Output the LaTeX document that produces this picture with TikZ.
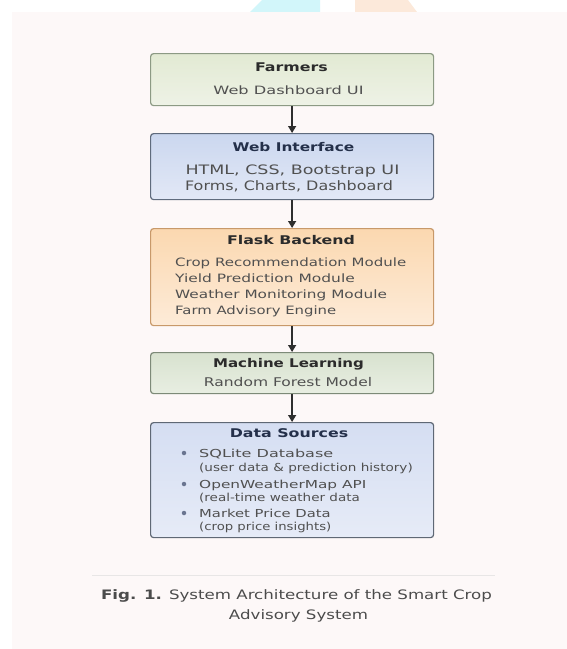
\documentclass[tikz,border=0pt]{standalone}
\usepackage{fontspec}
\setmainfont{DejaVu Sans}[FakeStretch=1.28]
\usetikzlibrary{arrows.meta}
\definecolor{panelbg}{HTML}{FDF8F8}
\definecolor{bodygray}{HTML}{505050}
\definecolor{arrowc}{HTML}{2E2E2E}
\definecolor{farmtop}{HTML}{E2EAD3}
\definecolor{farmbot}{HTML}{EEF2E6}
\definecolor{farmbd}{HTML}{8C9A84}
\definecolor{webtop}{HTML}{CBD7EF}
\definecolor{webbot}{HTML}{E2E8F6}
\definecolor{webbd}{HTML}{5F6B7D}
\definecolor{flasktop}{HTML}{FBD8B0}
\definecolor{flaskbot}{HTML}{FDEBD8}
\definecolor{flaskbd}{HTML}{C8996A}
\definecolor{mltop}{HTML}{D8E2CF}
\definecolor{mlbot}{HTML}{E8EEE2}
\definecolor{mlbd}{HTML}{7D8A78}
\definecolor{dstop}{HTML}{D5DEF2}
\definecolor{dsbot}{HTML}{E6EBF7}
\definecolor{dsbd}{HTML}{5F6875}
\definecolor{navy}{HTML}{24304A}
\definecolor{darkt}{HTML}{2B2B2B}
\definecolor{bulletc}{HTML}{6A7590}
\definecolor{sepc}{HTML}{E8E6E6}
\definecolor{wmcyan}{HTML}{D2F6FA}
\definecolor{wmorange}{HTML}{FCE9DA}
\newcommand{\hsc}[2]{\scalebox{#1}[1]{#2}}
\begin{document}
\begin{tikzpicture}[x=1pt,y=-1pt,
  box/.style={rounded corners=3pt, line width=1.2pt, minimum width=283pt, inner sep=0pt, anchor=north west},
  ttl/.style={font=\fontsize{12}{14}\selectfont\bfseries, inner sep=0pt, anchor=base},
  body/.style={font=\fontsize{11.5}{16}\selectfont, text=bodygray, inner sep=0pt, anchor=base},
  webbody/.style={font=\fontsize{13}{16}\selectfont, text=bodygray, inner sep=0pt, anchor=base},
  mlbody/.style={font=\fontsize{12}{16}\selectfont, text=bodygray, inner sep=0pt, anchor=base},
  lbody/.style={body, anchor=base west},
  dsbody/.style={font=\fontsize{11}{14}\selectfont, text=bodygray, inner sep=0pt, anchor=base west},
  capt/.style={font=\fontsize{13}{16}\selectfont, text=darkt!85, inner sep=0pt, anchor=base},
  bul/.style={circle, fill=bulletc, inner sep=0pt, minimum size=4.5pt},
  arr/.style={draw=arrowc, line width=1.4pt, -{Triangle[length=7pt,width=8pt]}}]
\useasboundingbox (0,0) rectangle (567,649);
\fill[white] (0,0) rectangle (567,649);
% faint watermark remnants
\fill[wmcyan] (262,0) -- (320,0) -- (320,12) -- (250,12) -- cycle;
\fill[wmorange] (355,0) -- (408,0) -- (417,12) -- (355,12) -- cycle;
\fill[panelbg] (12,12) rectangle (567,649);

% boxes
\node[box, draw=farmbd, top color=farmtop, bottom color=farmbot, minimum height=52pt] (farm) at (150,53) {};
\node[box, draw=webbd, top color=webtop, bottom color=webbot, minimum height=66pt] (web) at (150,133) {};
\node[box, draw=flaskbd, top color=flasktop, bottom color=flaskbot, minimum height=97pt] (flask) at (150,228) {};
\node[box, draw=mlbd, top color=mltop, bottom color=mlbot, minimum height=41pt] (ml) at (150,352) {};
\node[box, draw=dsbd, top color=dstop, bottom color=dsbot, minimum height=115pt] (ds) at (150,422) {};

% texts
\node[ttl, text=darkt] (farmT) at (291.5,71) {\hsc{1.03}{Farmers}};
\node[body] (farmS) at (288.5,94) {\hsc{1.1}{Web Dashboard UI}};

\node[ttl, text=navy] (webT) at (293.5,151) {Web Interface};
\node[webbody] (webA) at (292.5,174) {\hsc{1.05}{HTML, CSS, Bootstrap UI}};
\node[webbody] (webB) at (289,190) {\hsc{0.96}{Forms, Charts, Dashboard}};

\node[ttl, text=darkt] (flaskT) at (291,244) {\hsc{1.03}{Flask Backend}};
\node[lbody] (flA) at (175,266) {\hsc{1.02}{Crop Recommendation Module}};
\node[lbody] (flB) at (175,282) {\hsc{1.05}{Yield Prediction Module}};
\node[lbody] (flC) at (175,298) {\hsc{1.04}{Weather Monitoring Module}};
\node[lbody] (flD) at (175,314) {\hsc{1.01}{Farm Advisory Engine}};

\node[ttl, text=darkt] (mlT) at (288.5,367) {\hsc{0.98}{Machine Learning}};
\node[mlbody] (mlS) at (288,386) {\hsc{1.01}{Random Forest Model}};

\node[ttl, text=navy] (dsT) at (289,437) {\hsc{1.03}{Data Sources}};
\node[bul] (b1) at (184,453) {};
\node[bul] (b2) at (184,484) {};
\node[bul] (b3) at (184,513) {};
\node[dsbody] (dsA) at (199,457) {\hsc{1.14}{SQLite Database}};
\node[dsbody] (dsA2) at (199,471) {\hsc{0.965}{(user data \& prediction history)}};
\node[dsbody] (dsB) at (199,488) {\hsc{1.09}{OpenWeatherMap API}};
\node[dsbody] (dsB2) at (199,501) {\hsc{0.96}{(real-time weather data}};
\node[dsbody] (dsC) at (199,517) {\hsc{1.05}{Market Price Data}};
\node[dsbody] (dsC2) at (199,530) {\hsc{0.94}{(crop price insights)}};

% arrows
\draw[arr] (farm.south) -- (web.north);
\draw[arr] (web.south) -- (flask.north);
\draw[arr] (flask.south) -- (ml.north);
\draw[arr] (ml.south) -- (ds.north);

% caption
\draw[sepc, line width=1pt] (92,575) -- (495,575);
\node[capt] (cap1) at (296.5,599) {\textbf{Fig. 1.} System Architecture of the Smart Crop};
\node[capt] (cap2) at (298.5,619) {Advisory System};
\end{tikzpicture}
\end{document}
